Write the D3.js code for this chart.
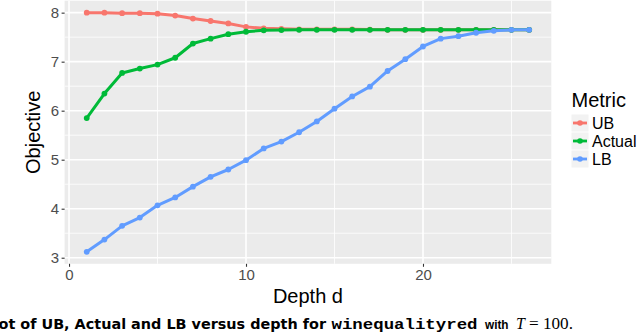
<!DOCTYPE html>
<html>
<head>
<meta charset="utf-8">
<script src="https://cdn.jsdelivr.net/npm/d3@7"></script>
<style>
  body { margin: 0; background: #fff; }
  svg { display: block; font-family: "Liberation Sans", Arial, sans-serif; }
</style>
</head>
<body>
<svg id="chart" width="640" height="332"></svg>
<script>
const depth = d3.range(1, 27)
const ub = [8.00, 8.00, 7.99, 7.99, 7.98, 7.94, 7.88, 7.83, 7.78, 7.71, 7.68, 7.67, 7.66, 7.66, 7.66, 7.66, 7.655, 7.65, 7.65, 7.65, 7.65, 7.65, 7.65, 7.65, 7.65, 7.65]
const actual = [5.85, 6.35, 6.77, 6.86, 6.94, 7.08, 7.37, 7.47, 7.56, 7.61, 7.64, 7.645, 7.65, 7.65, 7.65, 7.65, 7.65, 7.65, 7.65, 7.65, 7.65, 7.65, 7.65, 7.65, 7.65, 7.65]
const lb = [3.12, 3.37, 3.65, 3.82, 4.07, 4.23, 4.45, 4.65, 4.80, 4.99, 5.23, 5.37, 5.56, 5.78, 6.04, 6.29, 6.49, 6.81, 7.05, 7.31, 7.47, 7.52, 7.59, 7.63, 7.65, 7.65]
const metrics = ["UB", "Actual", "LB"]
const colors = ["#F8766D", "#00BA38", "#619CFF"]
const xTicks = [0, 10, 20]
const yTicks = [3, 4, 5, 6, 7, 8]

const series = [ub, actual, lb].map((vals, i) => ({
  name: metrics[i], color: colors[i],
  values: vals.map((v, j) => ({d: depth[j], v}))
}))

const svg = d3.select('#chart')
const panel = {left: 64.6, right: 551.3, top: 0.7, bottom: 263.8}

// ggplot style 5% expansion
const xr = d3.extent(depth), yr = d3.extent([...ub, ...actual, ...lb])
const xPad = (xr[1] - xr[0]) * 0.05, yPad = (yr[1] - yr[0]) * 0.05
const x = d3.scaleLinear().domain([xr[0] - xPad, xr[1] + xPad]).range([panel.left, panel.right])
const y = d3.scaleLinear().domain([yr[0] - yPad, yr[1] + yPad]).range([panel.bottom, panel.top])

svg.append('rect')
  .attr('x', panel.left).attr('y', panel.top)
  .attr('width', panel.right - panel.left).attr('height', panel.bottom - panel.top)
  .attr('fill', '#EBEBEB')

// minor grid
const xMinor = [5, 15, 25], yMinor = [3.5, 4.5, 5.5, 6.5, 7.5]
const grid = svg.append('g')
grid.selectAll('.xm').data(xMinor).join('line')
  .attr('x1', d => x(d)).attr('x2', d => x(d))
  .attr('y1', panel.top).attr('y2', panel.bottom)
  .attr('stroke', '#fff').attr('stroke-width', 0.8)
grid.selectAll('.ym').data(yMinor).join('line')
  .attr('y1', d => y(d)).attr('y2', d => y(d))
  .attr('x1', panel.left).attr('x2', panel.right)
  .attr('stroke', '#fff').attr('stroke-width', 0.8)
// major grid
grid.selectAll('.xM').data(xTicks).join('line')
  .attr('x1', d => x(d)).attr('x2', d => x(d))
  .attr('y1', panel.top).attr('y2', panel.bottom)
  .attr('stroke', '#fff').attr('stroke-width', 1.6)
grid.selectAll('.yM').data(yTicks).join('line')
  .attr('y1', d => y(d)).attr('y2', d => y(d))
  .attr('x1', panel.left).attr('x2', panel.right)
  .attr('stroke', '#fff').attr('stroke-width', 1.6)

// axes
const xAxis = svg.append('g')
  .attr('transform', `translate(0,${panel.bottom})`)
  .call(d3.axisBottom(x).tickValues(xTicks).tickFormat(d3.format('d')).tickSize(3).tickPadding(3))
const yAxis = svg.append('g')
  .attr('transform', `translate(${panel.left},0)`)
  .call(d3.axisLeft(y).tickValues(yTicks).tickFormat(d3.format('d')).tickSize(3).tickPadding(2.5))
for (const a of [xAxis, yAxis]) {
  a.select('.domain').remove()
  a.selectAll('.tick line').attr('stroke', '#333').attr('stroke-width', 1.1)
  a.selectAll('.tick text').attr('fill', '#4D4D4D')
    .style('font-family', '"Liberation Sans", Arial, sans-serif').style('font-size', '15px')
}

const line = d3.line().x(d => x(d.d)).y(d => y(d.v))
const lines = svg.append('g').selectAll('g').data(series).join('g')
lines.append('path')
  .attr('d', d => line(d.values))
  .attr('fill', 'none').attr('stroke', d => d.color)
  .attr('stroke-width', 3).attr('stroke-linejoin', 'round')
lines.selectAll('circle').data(d => d.values.map(p => ({...p, color: d.color}))).join('circle')
  .attr('cx', d => x(d.d)).attr('cy', d => y(d.v)).attr('r', 2.9)
  .attr('fill', d => d.color)

// axis titles
svg.append('text')
  .attr('x', (panel.left + panel.right) / 2).attr('y', 302.5)
  .attr('text-anchor', 'middle').style('font-size', '20px').attr('fill', '#000')
  .text('Depth d')
svg.append('text')
  .attr('transform', `translate(40,${(panel.top + panel.bottom) / 2}) rotate(-90)`)
  .attr('text-anchor', 'middle').style('font-size', '20px').attr('fill', '#000')
  .text('Objective')

// legend
const legend = svg.append('g')
legend.append('text').attr('x', 571.5).attr('y', 107.3)
  .style('font-size', '20px').text('Metric')
const item = legend.selectAll('.item').data(series).join('g')
  .attr('transform', (d, i) => `translate(571.5,${123 + i * 18})`)
item.append('rect').attr('x', 0).attr('y', -8.5).attr('width', 17).attr('height', 17).attr('fill', '#F2F2F2')
item.append('line').attr('x1', 1.5).attr('x2', 15.5).attr('stroke', d => d.color).attr('stroke-width', 2.8)
item.append('circle').attr('cx', 8.5).attr('r', 2.8).attr('fill', d => d.color)
item.append('text').attr('x', 20.5).attr('y', 5.6).style('font-size', '16px').text(d => d.name)

// caption (its left end runs past the edge, as in the source)
const capY = 328.5
const cap = svg.append('g').attr('fill', '#000')
cap.append('text').attr('x', -17).attr('y', capY)
  .attr('textLength', 343).attr('lengthAdjust', 'spacingAndGlyphs')
  .style('font-family', '"DejaVu Sans", sans-serif').style('font-weight', 'bold').style('font-size', '14px')
  .text('Plot of UB, Actual and LB versus depth for')
cap.append('text').attr('x', 331.5).attr('y', capY)
  .attr('textLength', 146).attr('lengthAdjust', 'spacingAndGlyphs')
  .style('font-family', '"Liberation Mono", monospace').style('font-weight', 'bold').style('font-size', '15px')
  .text('winequalityred')
cap.append('text').attr('x', 485).attr('y', capY)
  .attr('textLength', 23.5).attr('lengthAdjust', 'spacingAndGlyphs')
  .style('font-family', '"Liberation Sans", Arial, sans-serif').style('font-weight', 'bold').style('font-size', '12.5px')
  .text('with')
cap.append('text').attr('x', 516).attr('y', capY)
  .style('font-family', '"Liberation Serif", serif').style('font-style', 'italic').style('font-size', '16px')
  .text('T')
cap.append('text').attr('x', 529).attr('y', capY)
  .attr('textLength', 44).attr('lengthAdjust', 'spacingAndGlyphs')
  .style('font-family', '"Liberation Serif", serif').style('font-size', '16px')
  .text('= 100.')
</script>
</body>
</html>
